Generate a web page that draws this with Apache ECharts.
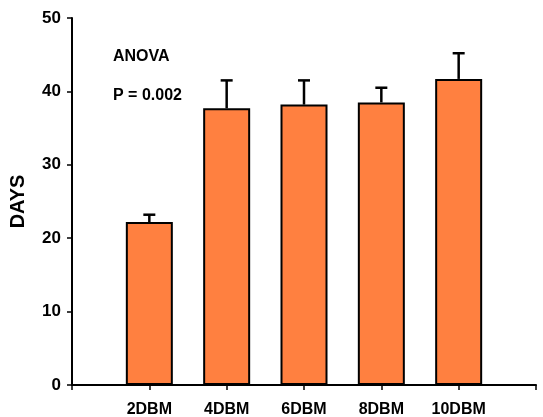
<!DOCTYPE html>
<html>
<head>
<meta charset="utf-8">
<script src="https://cdn.jsdelivr.net/npm/echarts@6/dist/echarts.min.js"></script>
<style>
  html, body { margin: 0; padding: 0; background: #fff; }
  #chart { width: 543px; height: 417px; }
</style>
</head>
<body>
<div id="chart"></div>
<script>
// empty slots at both ends so the axis runs past the outer bars
var categories = ['', '2DBM', '4DBM', '6DBM', '8DBM', '10DBM', ''];
var days = ['-', 22.2, 37.7, 38.2, 38.5, 41.7, '-'];
var errTop = ['-', 23.2, 41.5, 41.5, 40.5, 45.2, '-'];
var yTicks = [0, 10, 20, 30, 40, 50];

var font = 'Liberation Sans, Arial, sans-serif';
var chart = echarts.init(document.getElementById('chart'));

var errData = [];
for (var i = 0; i < categories.length; i++) {
  if (errTop[i] !== '-') errData.push([i, days[i], errTop[i]]);
}

var option = {
  animation: false,
  grid: { left: 72, top: 18, right: 7, bottom: 32, containLabel: false, outerBoundsMode: 'none' },
  xAxis: {
    type: 'category',
    data: categories,
    boundaryGap: false,
    axisLine: { lineStyle: { color: '#000', width: 2 } },
    axisTick: { show: true, length: 5, lineStyle: { color: '#000', width: 1.5 } },
    axisLabel: { color: '#000', fontFamily: font, fontWeight: 'bold', fontSize: 16, margin: 17 },
    splitLine: { show: false }
  },
  yAxis: {
    type: 'value',
    min: yTicks[0],
    max: yTicks[yTicks.length - 1],
    interval: 10,
    name: 'DAYS',
    nameLocation: 'middle',
    nameGap: 44,
    nameRotate: 90,
    nameTextStyle: { color: '#000', fontFamily: font, fontWeight: 'bold', fontSize: 20 },
    axisLine: { show: true, lineStyle: { color: '#000', width: 2 } },
    axisTick: { show: true, length: 5, lineStyle: { color: '#000', width: 1.5 } },
    axisLabel: { color: '#000', fontFamily: font, fontWeight: 'bold', fontSize: 17, margin: 11 },
    splitLine: { show: false }
  },
  graphic: [
    { type: 'text', left: 113, top: 49, style: { text: 'ANOVA', font: 'bold 16px ' + font, fill: '#000' } },
    { type: 'text', left: 113, top: 88, style: { text: 'P = 0.002', font: 'bold 16px ' + font, fill: '#000' } }
  ],
  series: [
    {
      type: 'bar',
      data: days,
      barWidth: 47,
      itemStyle: { color: '#ff8040', borderColor: '#000', borderWidth: 2 }
    },
    {
      type: 'custom',
      data: errData,
      z: 1,
      renderItem: function (params, api) {
        var x = api.value(0);
        var base = api.coord([x, api.value(1)]);
        var top = api.coord([x, api.value(2)]);
        var half = 6;
        var style = { stroke: '#000', lineWidth: 2.5 };
        return {
          type: 'group',
          children: [
            { type: 'line', shape: { x1: base[0], y1: base[1], x2: top[0], y2: top[1] }, style: style },
            { type: 'line', shape: { x1: top[0] - half, y1: top[1], x2: top[0] + half, y2: top[1] }, style: style }
          ]
        };
      }
    }
  ]
};

chart.setOption(option);
</script>
</body>
</html>
